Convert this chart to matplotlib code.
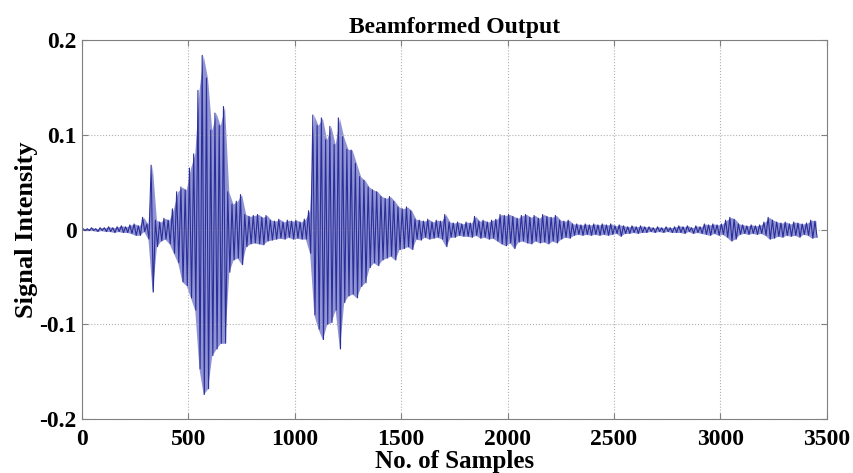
import numpy as np
import matplotlib
matplotlib.use("Agg")
import matplotlib.pyplot as plt

# Waveform read off the picture as per-bin peaks: each bin is 20 samples wide,
# hi = highest excursion in the bin, lo = lowest excursion in the bin.
bin_width = 20
hi = [
    0.001, 0.001, 0.002, 0.001, 0.002, 0.002, 0.003, 0.002, 0.003, 0.004,
    0.003, 0.005, 0.006, 0.004, 0.013, 0.006, 0.068, 0.010, 0.008, 0.012,
    0.010, 0.022, 0.040, 0.045, 0.042, 0.065, 0.080, 0.147, 0.184, 0.160,
    0.105, 0.123, 0.110, 0.130, 0.040, 0.027, 0.030, 0.037, 0.016, 0.014,
    0.015, 0.016, 0.013, 0.015, 0.010, 0.009, 0.011, 0.008, 0.010, 0.009,
    0.010, 0.008, 0.011, 0.020, 0.121, 0.110, 0.118, 0.095, 0.109, 0.090,
    0.118, 0.098, 0.085, 0.084, 0.070, 0.056, 0.052, 0.045, 0.042, 0.040,
    0.035, 0.033, 0.035, 0.030, 0.024, 0.022, 0.024, 0.020, 0.011, 0.010,
    0.009, 0.011, 0.008, 0.010, 0.009, 0.016, 0.008, 0.007, 0.008, 0.006,
    0.008, 0.007, 0.014, 0.009, 0.010, 0.008, 0.010, 0.011, 0.016, 0.015,
    0.016, 0.014, 0.012, 0.015, 0.016, 0.013, 0.015, 0.012, 0.016, 0.014,
    0.013, 0.015, 0.010, 0.009, 0.010, 0.006, 0.006, 0.005, 0.006, 0.005,
    0.006, 0.005, 0.006, 0.005, 0.006, 0.004, 0.005, 0.004, 0.003, 0.004,
    0.003, 0.004, 0.003, 0.003, 0.002, 0.003, 0.002, 0.003, 0.002, 0.003,
    0.004, 0.003, 0.004, 0.002, 0.004, 0.003, 0.006, 0.005, 0.006, 0.005,
    0.006, 0.010, 0.013, 0.011, 0.006, 0.005, 0.004, 0.005, 0.004, 0.005,
    0.008, 0.013, 0.010, 0.008, 0.007, 0.008, 0.006, 0.008, 0.007, 0.006,
    0.007, 0.010, 0.009,
]
lo = [
    -0.001, -0.001, -0.001, -0.002, -0.001, -0.002, -0.002, -0.003, -0.002, -0.003,
    -0.003, -0.004, -0.006, -0.006, -0.002, -0.010, -0.066, -0.018, -0.012, -0.010,
    -0.015, -0.025, -0.035, -0.055, -0.059, -0.072, -0.085, -0.147, -0.174, -0.168,
    -0.133, -0.126, -0.120, -0.120, -0.045, -0.032, -0.030, -0.037, -0.018, -0.015,
    -0.014, -0.015, -0.016, -0.012, -0.011, -0.010, -0.009, -0.010, -0.008, -0.010,
    -0.009, -0.010, -0.010, -0.025, -0.090, -0.105, -0.116, -0.100, -0.098, -0.085,
    -0.126, -0.077, -0.070, -0.068, -0.072, -0.060, -0.056, -0.040, -0.035, -0.038,
    -0.032, -0.030, -0.028, -0.032, -0.021, -0.020, -0.018, -0.021, -0.010, -0.011,
    -0.008, -0.010, -0.009, -0.008, -0.010, -0.018, -0.008, -0.008, -0.006, -0.007,
    -0.007, -0.008, -0.006, -0.009, -0.008, -0.010, -0.009, -0.012, -0.015, -0.017,
    -0.014, -0.020, -0.013, -0.012, -0.014, -0.015, -0.012, -0.014, -0.013, -0.015,
    -0.012, -0.014, -0.010, -0.008, -0.009, -0.006, -0.005, -0.006, -0.005, -0.006,
    -0.005, -0.006, -0.005, -0.006, -0.005, -0.004, -0.007, -0.004, -0.004, -0.003,
    -0.004, -0.003, -0.003, -0.002, -0.003, -0.002, -0.003, -0.002, -0.003, -0.003,
    -0.003, -0.004, -0.002, -0.004, -0.003, -0.004, -0.005, -0.006, -0.004, -0.006,
    -0.005, -0.008, -0.012, -0.010, -0.005, -0.004, -0.005, -0.004, -0.005, -0.004,
    -0.006, -0.010, -0.009, -0.007, -0.008, -0.006, -0.007, -0.006, -0.008, -0.005,
    -0.006, -0.009, -0.008,
]

x_ticks = [0, 500, 1000, 1500, 2000, 2500, 3000, 3500]
y_ticks = [-0.2, -0.1, 0, 0.1, 0.2]
y_tick_labels = ["-0.2", "-0.1", "0", "0.1", "0.2"]

# min/max trace: high peak then low peak inside each bin
start = np.arange(len(hi)) * bin_width
xs = np.column_stack([start + 5, start + 15]).ravel()
ys = np.column_stack([hi, lo]).ravel()

plt.rcParams["font.family"] = ["Liberation Serif", "DejaVu Serif"]
plt.rcParams["font.weight"] = "bold"

fig = plt.figure(figsize=(8.54, 4.73), dpi=100)
ax = fig.add_axes([0.096, 0.114, 0.872, 0.801])

# dense oscillation: pale band between the bin peaks, darker peak trace on top
ax.fill_between(start + 10, lo, hi, color="#9194d4", linewidth=0)
ax.plot(xs, ys, color="#2a2e98", linewidth=0.8)

ax.set_xlim(0, 3500)
ax.set_ylim(-0.2, 0.2)
ax.set_xticks(x_ticks)
ax.set_yticks(y_ticks)
ax.set_yticklabels(y_tick_labels)
ax.grid(True, linestyle=":", color="#b0b0b0", linewidth=0.8)

ax.tick_params(direction="in", top=True, right=True, length=4,
               color="#808080", labelsize=17)
ax.tick_params(axis="x", pad=7)
ax.tick_params(axis="y", pad=4)
for s in ax.spines.values():
    s.set_color("#808080")

ax.set_title("Beamformed Output", fontsize=17, fontweight="bold", pad=5)
ax.set_xlabel("No. of Samples", fontsize=18, fontweight="bold", labelpad=0)
ax.set_ylabel("Signal Intensity", fontsize=19, fontweight="bold", labelpad=1)

fig.savefig("out.png", dpi=100)
